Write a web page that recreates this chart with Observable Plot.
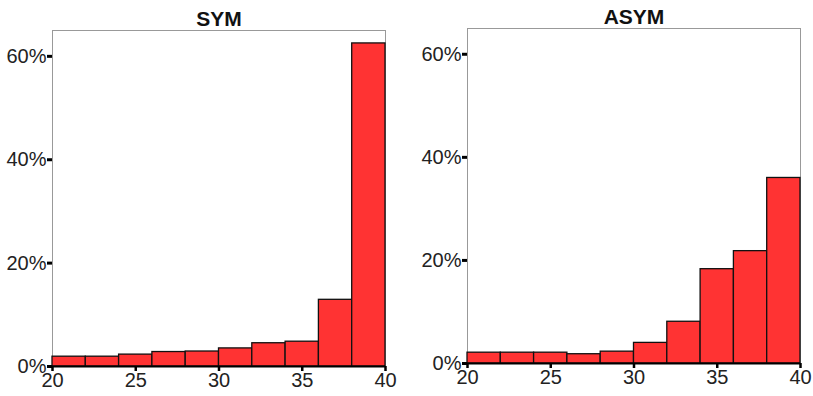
<!DOCTYPE html>
<html>
<head>
<meta charset="utf-8">
<script src="https://cdn.jsdelivr.net/npm/d3@7"></script>
<script src="https://cdn.jsdelivr.net/npm/@observablehq/plot@0.6"></script>
<style>
  html, body { margin: 0; padding: 0; background: #fff; }
  #wrap { display: flex; width: 813px; height: 396px; }
  #wrap svg text { font-family: 'Liberation Sans', Arial, sans-serif; }
</style>
</head>
<body>
<div id="wrap"></div>
<script>
const binStarts = [20, 22, 24, 26, 28, 30, 32, 34, 36, 38];
const binWidth = 2;
const symValues = [1.9, 1.9, 2.3, 2.8, 2.9, 3.5, 4.5, 4.8, 12.9, 62.5];
const asymValues = [2.1, 2.1, 2.1, 1.8, 2.3, 4.0, 8.1, 18.3, 21.8, 36.0];
const xTicks = [20, 25, 30, 35, 40];
const yTicks = [0, 20, 40, 60];
const titles = ["SYM", "ASYM"];

function panel(title, values, opts) {
  const data = binStarts.map((s, i) => ({x1: s, x2: s + binWidth, y: values[i]}));
  return Plot.plot({
    width: opts.width,
    height: 396,
    marginLeft: opts.ml,
    marginRight: opts.mr,
    marginTop: opts.mt,
    marginBottom: 396 - opts.bottom,
    style: {fontFamily: "'Liberation Sans', Arial, sans-serif", fontSize: "20px", color: "#222", background: "#fff"},
    x: {domain: [20, 40], label: null},
    y: {domain: [0, 65], label: null},
    marks: [
      Plot.frame({stroke: "#999", strokeWidth: 1}),
      Plot.rectY(data, {x1: "x1", x2: "x2", y: "y", fill: "#ff3333", stroke: "#111", strokeWidth: 1.3}),
      Plot.ruleY([0], {stroke: "#000", strokeWidth: 2}),
      Plot.axisX({ticks: xTicks, tickSize: 5, tickPadding: 1, strokeWidth: 2.5, stroke: "#000", fill: "#222", fontSize: 20, label: null}),
      Plot.axisY({ticks: yTicks, tickSize: 5, tickPadding: 1, strokeWidth: 3, stroke: "#000", fill: "#222", fontSize: 20, label: null, tickFormat: d => d + "%"}),
      Plot.text([title], {frameAnchor: "top", dy: -19, text: d => d, fontWeight: "bold", fontSize: 21, fill: "#111"})
    ]
  });
}

const wrap = document.getElementById("wrap");
wrap.appendChild(panel(titles[0], symValues, {width: 406, ml: 52, mr: 21, mt: 30, bottom: 366}));
wrap.appendChild(panel(titles[1], asymValues, {width: 407, ml: 61, mr: 13, mt: 28, bottom: 363}));
</script>
</body>
</html>
